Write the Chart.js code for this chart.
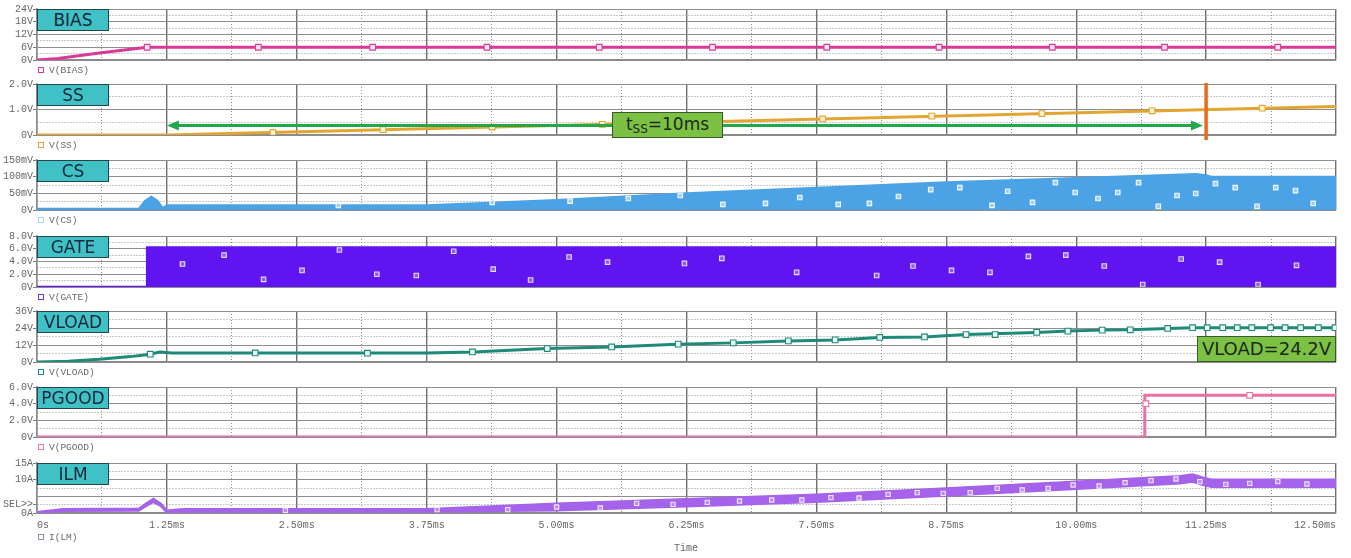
<!DOCTYPE html>
<html>
<head>
<meta charset="utf-8">
<script src="https://cdn.jsdelivr.net/npm/chart.js@4.4.1/dist/chart.umd.min.js"></script>
<style>
  html, body { margin: 0; padding: 0; background: #fff; }
  #wrap { position: relative; width: 1351px; height: 558px; overflow: hidden; background: #fff; }
  #wrap canvas { position: absolute; left: 0; }
  .tag { position: absolute; left: 37px; width: 70px; height: 20px; background: #3fc1c6; border: 1px solid #24444a;
         font: 17px "DejaVu Sans", sans-serif; color: #18283a; text-align: center; line-height: 21px; z-index: 2; }
  .leg { position: absolute; left: 38px; font: 9.5px "Liberation Mono", monospace; color: #6a6a6a; z-index: 2; white-space: nowrap; }
  .leg i { display: inline-block; width: 4px; height: 4px; border: 1px solid; margin-right: 5px; vertical-align: 0px; }
  .note { position: absolute; background: #7cc143; border: 1.5px solid #3b5a2c; color: #1c2a1c; box-sizing: border-box;
          font: 17px "DejaVu Sans", sans-serif; text-align: center; z-index: 3; }
  .note sub { font-size: 12px; vertical-align: -3px; line-height: 0; }
  .axtitle { position: absolute; font: 10px "Liberation Mono", monospace; color: #666; z-index: 2; }
</style>
</head>
<body>
<div id="wrap"></div>
<script>
// ---- time axis (ms) ----
const timeTicks  = [0, 1.25, 2.5, 3.75, 5, 6.25, 7.5, 8.75, 10, 11.25, 12.5];
const timeLabels = ['0s', '1.25ms', '2.50ms', '3.75ms', '5.00ms', '6.25ms', '7.50ms', '8.75ms', '10.00ms', '11.25ms', '12.50ms'];

// ---- V(BIAS) ----
const biasT = [0, 0.2, 0.6, 1.06, 12.5];
const biasV = [0, 0.7, 3.3, 6.0, 6.0];
const biasMarkT = [1.06, 2.13, 3.23, 4.33, 5.41, 6.5, 7.6, 8.68, 9.77, 10.85, 11.94];
const biasMarkV = [6, 6, 6, 6, 6, 6, 6, 6, 6, 6, 6];
const biasTickVals = [0, 6, 12, 18, 24];
const biasTickText = ['0V', '6V', '12V', '18V', '24V'];

// ---- V(SS) ----
const ssT = [0, 1.25, 12.5];
const ssV = [0, 0, 1.12];
const ssMarkT = [2.27, 3.33, 4.38, 5.44, 6.5, 7.56, 8.61, 9.67, 10.73, 11.79];
const ssMarkV = [0.1, 0.21, 0.31, 0.42, 0.52, 0.63, 0.74, 0.84, 0.95, 1.05];
const ssTickVals = [0, 1, 2];
const ssTickText = ['0V', '1.0V', '2.0V'];

// ---- V(CS) envelope (mV) ----
const csT = [0, 0.98, 1.04, 1.1, 1.16, 1.21, 1.25, 3.75, 5.0, 6.25, 7.5, 8.75, 10.0, 11.15, 11.25, 11.3, 12.5];
const csV = [4, 4, 28, 40, 28, 6, 14, 14, 30, 50, 67, 83, 96, 108, 104, 100, 100];
const csMarkT = [2.90, 4.38, 5.13, 5.69, 6.19, 6.60, 7.01, 7.34, 7.71, 8.01, 8.29, 8.60, 8.88, 9.19, 9.34, 9.58, 9.80, 9.99, 10.21, 10.40, 10.60, 10.79, 10.97, 11.15, 11.34, 11.53, 11.74, 11.92, 12.11, 12.28];
const csMarkV = [13.9, 22.8, 26.6, 34.6, 43.5, 16.9, 19.8, 37.6, 16.9, 19.8, 40.6, 61.3, 67.2, 13.9, 56.2, 22.8, 82.0, 52.4, 34.6, 52.4, 82.0, 11.0, 43.5, 49.4, 79.0, 67.2, 11.0, 67.2, 58.3, 19.8];
const csTickVals = [0, 50, 100, 150];
const csTickText = ['0V', '50mV', '100mV', '150mV'];

// ---- V(GATE) ----
const gateT = [0, 1.06, 1.06, 12.5];
const gateV = [0, 0, 6.2, 6.2];
const gateMarkT = [1.40, 1.80, 2.18, 2.55, 2.91, 3.27, 3.65, 4.01, 4.39, 4.75, 5.12, 5.49, 6.23, 6.59, 7.31, 8.08, 8.43, 8.80, 9.17, 9.54, 9.90, 10.27, 10.64, 11.01, 11.38, 11.75, 12.12];
const gateMarkV = [3.6, 5.0, 1.2, 2.6, 5.8, 2.0, 1.8, 5.6, 2.8, 1.1, 4.7, 3.9, 3.7, 4.5, 2.3, 1.8, 3.3, 2.6, 2.3, 4.8, 5.0, 3.3, 0.4, 4.4, 3.9, 0.4, 3.4];
const gateTickVals = [0, 2, 4, 6, 8];
const gateTickText = ['0V', '2.0V', '4.0V', '6.0V', '8.0V'];

// ---- V(VLOAD) ----
const vloadT = [0, 0.3, 0.6, 0.9, 1.09, 1.18, 1.3, 2.0, 3.75, 4.2, 4.9, 5.53, 6.16, 6.7, 7.23, 7.68, 8.11, 8.54, 8.94, 9.62, 9.92, 10.25, 10.52, 10.88, 11.12, 11.25, 12.5];
const vloadV = [0, 0.6, 1.9, 3.8, 5.5, 7.1, 6.4, 6.3, 6.3, 7.1, 9.5, 10.6, 12.6, 13.5, 14.9, 15.6, 17.3, 17.7, 19.4, 20.9, 21.8, 22.5, 22.7, 23.7, 24.2, 24.2, 24.2];
const vloadMarkT = [1.09, 2.10, 3.18, 4.19, 4.91, 5.53, 6.17, 6.70, 7.23, 7.68, 8.11, 8.54, 8.94, 9.22, 9.62, 9.92, 10.25, 10.52, 10.88, 11.12, 11.26, 11.41, 11.55, 11.69, 11.87, 12.01, 12.16, 12.33, 12.49];
const vloadMarkV = [5.5, 6.4, 6.2, 7.1, 9.5, 10.6, 12.6, 13.5, 14.9, 15.6, 17.3, 17.7, 19.4, 19.4, 20.9, 21.8, 22.5, 22.7, 23.7, 24.2, 24.2, 24.2, 24.2, 24.2, 24.2, 24.2, 24.2, 24.2, 24.2];
const vloadTickVals = [0, 12, 24, 36];
const vloadTickText = ['0V', '12V', '24V', '36V'];
const vloadFinal = '24.2V';

// ---- V(PGOOD) ----
const pgT = [0, 10.66, 10.66, 12.5];
const pgV = [0, 0, 5.0, 5.0];
const pgMarkT = [10.67, 11.67];
const pgMarkV = [4.0, 5.0];
const pgTickVals = [0, 2, 4, 6];
const pgTickText = ['0V', '2.0V', '4.0V', '6.0V'];

// ---- I(LM) ripple band (A) ----
const ilmT  = [0, 0.25, 0.98, 1.05, 1.12, 1.19, 1.25, 1.4, 3.75, 5.0, 6.25, 7.5, 8.75, 10.0, 11.0, 11.12, 11.22, 11.3, 12.5];
const ilmHi = [0.4, 1.3, 1.4, 3.0, 4.4, 3.0, 0.8, 1.3, 1.3, 2.9, 4.3, 5.6, 7.5, 9.5, 11.2, 11.7, 10.7, 10.1, 10.1];
const ilmLo = [0, 0.5, 0.6, 2.0, 3.2, 2.0, 0.0, 0.3, 0.3, 0.7, 1.9, 3.2, 5.1, 7.1, 8.8, 9.3, 8.3, 7.7, 7.7];
const ilmMarkT = [2.39, 3.85, 4.53, 5.00, 5.42, 5.77, 6.12, 6.45, 6.76, 7.07, 7.36, 7.64, 7.91, 8.19, 8.47, 8.72, 8.98, 9.24, 9.48, 9.73, 9.97, 10.22, 10.47, 10.72, 10.96, 11.19, 11.44, 11.67, 11.94, 12.22];
const ilmMarkV = [0.8, 1.0, 1.0, 1.8, 1.5, 2.9, 2.6, 3.2, 3.6, 3.9, 3.9, 4.6, 4.5, 5.6, 6.1, 5.9, 6.1, 7.4, 6.9, 7.4, 8.4, 8.1, 9.1, 9.7, 10.2, 9.4, 8.6, 8.9, 9.4, 8.7];
const ilmTickVals = [0, 2.5, 10, 15];
const ilmTickText = ['0A', 'SEL>>', '10A', '15A'];

// ---- soft-start annotation ----
const tssStart = 1.25, tssEnd = 11.22, tssLevel = 0.37, tssCursor = 11.25;

// ---------------------------------------------------------------
const pts = (t, v) => t.map((x, i) => ({ x, y: v[i] }));
const near = (a, b) => Math.abs(a - b) < 1e-6;
const onStep = (v, s) => near(v / s, Math.round(v / s));
const steps = (lo, hi, s) => { const out = []; for (let k = 0; lo + k * s <= hi + 1e-9; k++) out.push(+(lo + k * s).toFixed(6)); return out; };

function trace(t, v, color, width, fillColor) {
  return { data: pts(t, v), borderColor: color, borderWidth: width, pointRadius: 0, order: 2,
           fill: fillColor ? 'origin' : false, backgroundColor: fillColor || color };
}
function marks(t, v, edge, face, r) {
  return { data: pts(t, v), showLine: false, pointStyle: 'rect', pointRadius: r, pointBorderWidth: 1.1,
           pointBorderColor: edge, pointBackgroundColor: face, order: 0 };
}

const ssNotes = {
  id: 'ssNotes',
  afterDatasetsDraw(chart) {
    const { ctx, chartArea, scales: { x, y } } = chart;
    const x1 = x.getPixelForValue(tssStart), x2 = x.getPixelForValue(tssEnd), yy = y.getPixelForValue(tssLevel);
    ctx.save();
    ctx.strokeStyle = ctx.fillStyle = '#22a84a';
    ctx.lineWidth = 3;
    ctx.beginPath(); ctx.moveTo(x1 + 8, yy); ctx.lineTo(x2 - 8, yy); ctx.stroke();
    ctx.beginPath(); ctx.moveTo(x1, yy); ctx.lineTo(x1 + 12, yy - 5); ctx.lineTo(x1 + 12, yy + 5); ctx.closePath(); ctx.fill();
    ctx.beginPath(); ctx.moveTo(x2, yy); ctx.lineTo(x2 - 12, yy - 5); ctx.lineTo(x2 - 12, yy + 5); ctx.closePath(); ctx.fill();
    const xc = x.getPixelForValue(tssCursor);
    ctx.strokeStyle = '#e8691f'; ctx.lineWidth = 3.5;
    ctx.beginPath(); ctx.moveTo(xc, chartArea.top - 1); ctx.lineTo(xc, chartArea.bottom + 5); ctx.stroke();
    ctx.restore();
  }
};

const panels = [
  { tag: 'BIAS', legend: 'V(BIAS)', legColor: '#d93a95', top: 9, bottom: 60, yMax: 24, yStep: 3, major: 6,
    tickVals: biasTickVals, tickText: biasTickText,
    sets: [trace(biasT, biasV, '#d93a95', 3), marks(biasMarkT, biasMarkV, '#d93a95', '#fbe6f1', 4)] },
  { tag: 'SS', legend: 'V(SS)', legColor: '#e0a43a', top: 84, bottom: 135, yMax: 2, yStep: 0.5, major: 1,
    tickVals: ssTickVals, tickText: ssTickText, plugins: [ssNotes],
    sets: [trace(ssT, ssV, '#e3a532', 3), marks(ssMarkT, ssMarkV, '#e3a532', '#fff4d6', 4)] },
  { tag: 'CS', legend: 'V(CS)', legColor: '#a9d4f2', top: 160, bottom: 210, yMax: 150, yStep: 25, major: 50,
    tickVals: csTickVals, tickText: csTickText,
    sets: [trace(csT, csV, '#4ba3e6', 2, '#4ba3e6'), marks(csMarkT, csMarkV, 'rgba(255,255,255,0.9)', 'rgba(170,210,245,0.9)', 3.2)] },
  { tag: 'GATE', legend: 'V(GATE)', legColor: '#6a3af0', top: 236, bottom: 287, yMax: 8, yStep: 1, major: 2,
    tickVals: gateTickVals, tickText: gateTickText,
    sets: [trace(gateT, gateV, '#5f14f0', 2.5, '#5f14f0'), marks(gateMarkT, gateMarkV, '#e6dcff', '#8a5cf5', 3.2)] },
  { tag: 'VLOAD', legend: 'V(VLOAD)', legColor: '#1e8a78', top: 311, bottom: 362, yMax: 36, yStep: 6, major: 12,
    tickVals: vloadTickVals, tickText: vloadTickText,
    sets: [trace(vloadT, vloadV, '#1e8a78', 3), marks(vloadMarkT, vloadMarkV, '#1e8a78', '#e9f8f4', 4)] },
  { tag: 'PGOOD', legend: 'V(PGOOD)', legColor: '#ec7aa8', top: 387, bottom: 437, yMax: 6, yStep: 1, major: 2,
    tickVals: pgTickVals, tickText: pgTickText,
    sets: [trace(pgT, pgV, '#ec6fa6', 3), marks(pgMarkT, pgMarkV, '#ec6fa6', '#ffffff', 4)] },
  { tag: 'ILM', legend: 'I(LM)', legColor: '#9a8aa8', top: 463, bottom: 513, yMax: 15, yStep: 2.5, major: 5,
    tickVals: ilmTickVals, tickText: ilmTickText, last: true,
    sets: [
      { data: pts(ilmT, ilmHi), borderColor: '#a463ea', borderWidth: 1.5, pointRadius: 0, fill: '+1', backgroundColor: '#a463ea', order: 2 },
      { data: pts(ilmT, ilmLo), borderColor: '#a463ea', borderWidth: 1.5, pointRadius: 0, fill: false, order: 2 },
      marks(ilmMarkT, ilmMarkV, '#f1e8ff', '#b88af0', 3)
    ] }
];

const wrap = document.getElementById('wrap');
const monoFont = { family: '"Liberation Mono", monospace', size: 10 };

panels.forEach(p => {
  const padTop = 8, padBottom = p.last ? 25 : 8, xHeight = p.last ? 20 : 0;
  const canvas = document.createElement('canvas');
  canvas.width = 1351;
  canvas.height = padTop + (p.bottom - p.top) + xHeight + padBottom;
  canvas.style.top = (p.top - padTop) + 'px';
  wrap.appendChild(canvas);

  const labelFor = (vals, text) => v => { const i = vals.findIndex(a => near(a, v)); return i < 0 ? '' : text[i]; };
  const isLabeled = (vals, v) => vals.some(a => near(a, v));

  new Chart(canvas, {
    type: 'line',
    data: { datasets: p.sets },
    plugins: p.plugins || [],
    options: {
      responsive: false, animation: false, devicePixelRatio: 1, events: [],
      layout: { padding: { left: 0, right: 15, top: padTop, bottom: padBottom } },
      plugins: { legend: { display: false }, tooltip: { enabled: false } },
      scales: {
        x: {
          type: 'linear', min: 0, max: 12.5, bounds: 'data',
          afterBuildTicks: s => { s.ticks = steps(0, 12.5, 0.625).map(value => ({ value })); },
          afterFit: s => { s.height = xHeight; s.paddingLeft = 0; s.paddingRight = 0; },
          grid: {
            drawTicks: false,
            color: c => onStep(c.tick.value, 1.25) ? '#6f6f6f' : '#8e8e8e',
            lineWidth: c => onStep(c.tick.value, 1.25) ? 1.4 : 1
          },
          border: { display: true, color: '#8a8a8a', width: 1.5,
                    dash: c => (c.tick && !onStep(c.tick.value, 1.25)) ? [1, 2] : [] },
          ticks: { display: !!p.last, align: 'inner', padding: 6, autoSkip: false, maxRotation: 0,
                   font: monoFont, color: '#666', callback: labelFor(timeTicks, timeLabels) }
        },
        y: {
          type: 'linear', min: 0, max: p.yMax, bounds: 'data',
          afterBuildTicks: s => { s.ticks = steps(0, p.yMax, p.yStep).map(value => ({ value })); },
          afterFit: s => { s.width = 37; },
          grid: {
            tickLength: 4,
            tickColor: c => isLabeled(p.tickVals, c.tick.value) ? '#7a7a7a' : 'rgba(0,0,0,0)',
            color: c => onStep(c.tick.value, p.major) ? '#8e8e8e' : '#959595',
            lineWidth: 1
          },
          border: { display: true, color: '#8a8a8a', width: 1.5,
                    dash: c => (c.tick && !onStep(c.tick.value, p.major)) ? [1, 2] : [] },
          ticks: { padding: 0, autoSkip: false, font: monoFont, color: '#666',
                   callback: labelFor(p.tickVals, p.tickText) }
        }
      }
    }
  });

  const tag = document.createElement('div');
  tag.className = 'tag';
  tag.style.top = p.top + 'px';
  tag.textContent = p.tag;
  wrap.appendChild(tag);

  const leg = document.createElement('div');
  leg.className = 'leg';
  leg.style.top = (p.last ? p.bottom + 19 : p.bottom + 5) + 'px';
  const box = document.createElement('i');
  box.style.borderColor = p.legColor;
  leg.appendChild(box);
  leg.appendChild(document.createTextNode(p.legend));
  wrap.appendChild(leg);
});

// text callouts
const tss = document.createElement('div');
tss.className = 'note';
Object.assign(tss.style, { left: '612px', top: '112px', width: '111px', height: '26px', lineHeight: '22px' });
tss.innerHTML = '<span>t<sub>SS</sub>=10ms</span>';
wrap.appendChild(tss);

const vl = document.createElement('div');
vl.className = 'note';
Object.assign(vl.style, { left: '1197px', top: '336px', width: '139px', height: '26px', fontSize: '18px', lineHeight: '23px' });
vl.textContent = 'VLOAD=' + vloadFinal;
wrap.appendChild(vl);

const tt = document.createElement('div');
tt.className = 'axtitle';
Object.assign(tt.style, { left: '674px', top: '543px' });
tt.textContent = 'Time';
wrap.appendChild(tt);
</script>
</body>
</html>
